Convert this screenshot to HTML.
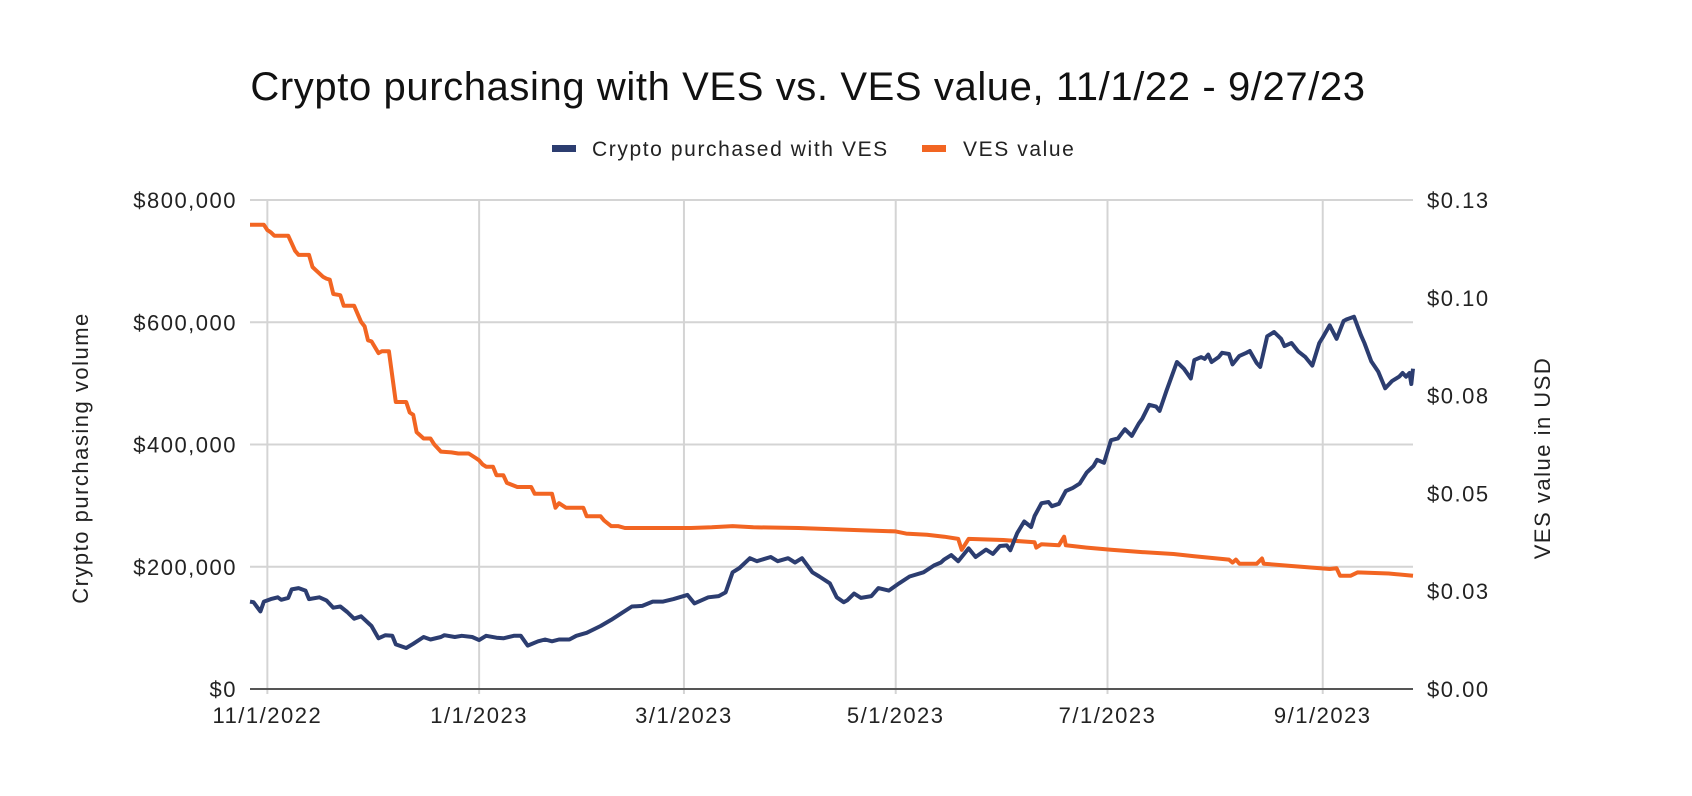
<!DOCTYPE html>
<html><head><meta charset="utf-8"><style>
html,body{margin:0;padding:0;background:#fff;}
svg{display:block;font-family:"Liberation Sans",sans-serif;}
</style></head><body>
<svg id="chart" width="1692" height="796" viewBox="0 0 1692 796">
<text x="808" y="100" text-anchor="middle" font-size="40" letter-spacing="0.6" fill="#111">Crypto purchasing with VES vs. VES value, 11/1/22 - 9/27/23</text>
<g>
<g><rect x="552" y="145" width="24" height="7" fill="#2c3d70"/><text x="592" y="156" font-size="21" letter-spacing="1.6" fill="#222">Crypto purchased with VES</text></g>
<g><rect x="922" y="145" width="24" height="7" fill="#f26522"/><text x="963" y="156" font-size="21" letter-spacing="1.6" fill="#222">VES value</text></g>
</g>
<g id="grid"></g>
<g id="axes"></g>
<g id="series"></g>
<text transform="translate(88,458) rotate(-90)" text-anchor="middle" font-size="22" letter-spacing="1.5" fill="#222">Crypto purchasing volume</text>
<text transform="translate(1550,458) rotate(-90)" text-anchor="middle" font-size="22" letter-spacing="1.5" fill="#222">VES value in USD</text>
</svg>
<script>
const xTickDays=[0,61,120,181,242,304];
const xTickLabels=["11/1/2022","1/1/2023","3/1/2023","5/1/2023","7/1/2023","9/1/2023"];
const leftTicks=[0,200000,400000,600000,800000];
const leftTickLabels=["$0","$200,000","$400,000","$600,000","$800,000"];
const rightTicks=[0,0.026,0.052,0.078,0.104,0.13];
const rightTickLabels=["$0.00","$0.03","$0.05","$0.08","$0.10","$0.13"];
const cryptoDays=[-5,-4,-2,-1,1,3,4,6,7,9,11,12,15,17,19,21,23,25,27,30,32,34,36,37,40,42,45,47,50,51,54,56,59,61,63,66,68,71,73,75,78,80,82,84,87,89,92,96,99,102,105,108,111,114,117,121,123,127,130,132,134,136,139,141,145,147,150,152,154,157,159,162,164,166,167,169,171,174,176,179,182,185,189,192,194,195,197,199,202,204,207,209,211,213,214,216,218,220,221,223,225,226,228,230,232,234,236,238,239,241,243,245,247,249,251,252,254,256,257,259,262,264,266,267,269,270,271,272,274,275,277,278,280,282,283,285,286,288,290,292,293,295,297,299,301,303,304,306,308,310,311,313,315,316,318,320,322,324,326,327,328,329,329.5,330];
const cryptoValues=[143000,142000,127000,143000,147000,150000,146000,149000,163000,165000,161000,147000,150000,145000,133000,135000,126000,115000,119000,103000,83000,88000,87000,73000,67000,74000,85000,81000,85000,88000,85000,87000,85000,80000,87000,84000,83000,87000,87000,71000,78000,81000,78000,81000,81000,87000,92000,103000,113000,124000,135000,136000,143000,143000,147000,154000,140000,150000,152000,158000,191000,198000,214000,209000,216000,209000,214000,207000,214000,191000,184000,173000,150000,142000,145000,156000,149000,152000,165000,161000,173000,184000,191000,202000,207000,212000,219000,209000,230000,216000,228000,221000,234000,235000,227000,255000,274000,265000,283000,304000,306000,299000,303000,324000,329000,336000,354000,365000,375000,370000,407000,410000,425000,414000,434000,442000,465000,462000,455000,488000,535000,524000,508000,538000,543000,540000,547000,535000,543000,550000,548000,531000,545000,550000,553000,533000,527000,577000,584000,573000,561000,566000,552000,543000,529000,566000,575000,595000,573000,602000,605000,609000,579000,566000,536000,519000,492000,504000,511000,517000,511000,517000,499000,524000,500000];
const vesDays=[-5,-1,0,1,2,6,7,8,9,12,13,14,16,17,18,19,21,22,25,27,28,29,30,32,33,35,37,40,41,42,43,45,47,48,50,53,55,58,60,61,62,63,65,66,68,69,72,76,77,82,83,84,86,88,91,92,96,97,99,101,103,109,122,128,134,140,153,171,181,184,190,195,199,200,202,212,221,221.5,223,228,229.5,230,236,243,252,261,267,277,278,279,280,285,286.5,287,295,306,308,309,312,314,323,330];
const vesValues=[0.1234,0.1234,0.1220,0.1214,0.1205,0.1205,0.1185,0.1165,0.1154,0.1154,0.1122,0.1113,0.1096,0.1091,0.1088,0.1050,0.1047,0.1019,0.1019,0.0976,0.0964,0.0927,0.0924,0.0893,0.0898,0.0898,0.0763,0.0763,0.0735,0.0729,0.0683,0.0666,0.0666,0.0651,0.0631,0.0629,0.0626,0.0626,0.0614,0.0608,0.0597,0.0591,0.0591,0.0568,0.0568,0.0548,0.0537,0.0537,0.0519,0.0519,0.0482,0.0494,0.0482,0.0482,0.0482,0.0459,0.0459,0.0448,0.0433,0.0433,0.0428,0.0428,0.0428,0.0430,0.0433,0.0430,0.0428,0.0422,0.0419,0.0413,0.0410,0.0405,0.0399,0.0370,0.0399,0.0396,0.0390,0.0376,0.0385,0.0382,0.0405,0.0382,0.0376,0.0370,0.0364,0.0359,0.0353,0.0344,0.0336,0.0344,0.0333,0.0333,0.0347,0.0333,0.0327,0.0319,0.0321,0.0301,0.0301,0.0310,0.0307,0.0301];

const NS="http://www.w3.org/2000/svg";
const X0=250,X1=1413,Y0=689,Y1=200,D0=-5,D1=330;
function xs(d){return X0+(d-D0)/(D1-D0)*(X1-X0);}
function yl(v){return Y0-v/800000*(Y0-Y1);}
function yr(v){return Y0-v/0.13*(Y0-Y1);}
function mk(tag,attrs,parent){const e=document.createElementNS(NS,tag);for(const k in attrs)e.setAttribute(k,attrs[k]);parent.appendChild(e);return e;}
const grid=document.getElementById('grid'),axes=document.getElementById('axes'),series=document.getElementById('series');
leftTicks.forEach((v,i)=>{
  if(v>0){const l=mk('line',{x1:X0,x2:X1,y1:yl(v),y2:yl(v),stroke:'#d4d4d4','stroke-width':2},grid);
  
  }
  const t=mk('text',{x:237,y:yl(v)+8,'text-anchor':'end','font-size':22,'letter-spacing':1.5,fill:'#222'},axes);
  t.textContent=leftTickLabels[i];
  
  
});
rightTicks.forEach((v,i)=>{
  const t=mk('text',{x:1427,y:yr(v)+8,'text-anchor':'start','font-size':22,'letter-spacing':1.5,fill:'#222'},axes);
  t.textContent=rightTickLabels[i];
  
  
});
xTickDays.forEach((d,i)=>{
  const l=mk('line',{x1:xs(d),x2:xs(d),y1:Y1,y2:Y0+5,stroke:'#d4d4d4','stroke-width':2},grid);
  
  
  const t=mk('text',{x:xs(d),y:723,'text-anchor':'middle','font-size':22,'letter-spacing':1.5,fill:'#222'},axes);
  t.textContent=xTickLabels[i];
  
  
});
const base=mk('line',{x1:X0,x2:X1,y1:Y0,y2:Y0,stroke:'#555','stroke-width':2},axes);


function path(days,vals,yf,color,name){
  const d=days.map((dd,i)=>(i?'L':'M')+xs(dd).toFixed(1)+' '+yf(vals[i]).toFixed(1)).join(' ');
  const p=mk('path',{d:d,fill:'none',stroke:color,'stroke-width':4,'stroke-linejoin':'round'},series);
  
  
}
path(vesDays,vesValues,yr,'#f26522','ves-value-line');
path(cryptoDays,cryptoValues,yl,'#2c3d70','crypto-purchased-line');
</script>
</body></html>
